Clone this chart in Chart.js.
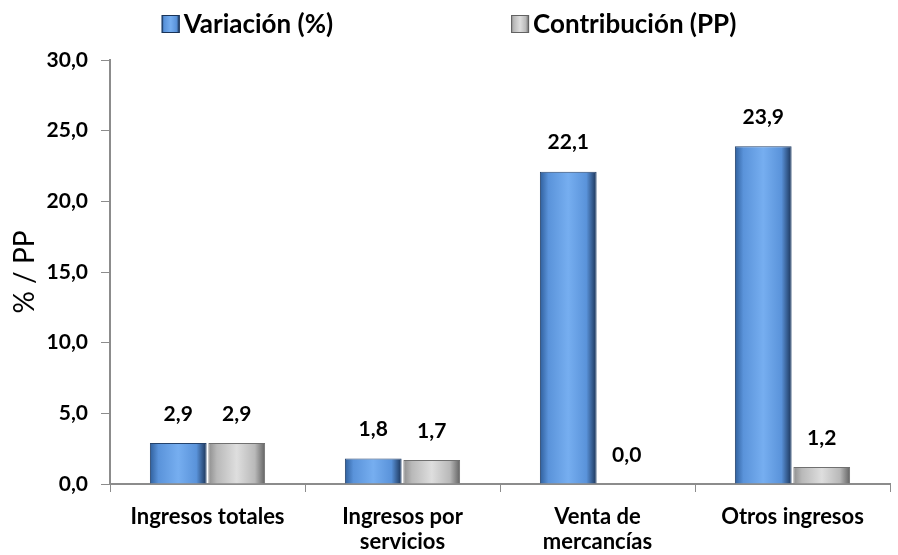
<!DOCTYPE html>
<html>
<head>
<meta charset="utf-8">
<script src="https://cdn.jsdelivr.net/npm/chart.js@4.4.1/dist/chart.umd.min.js"></script>
<style>
  html, body { margin: 0; padding: 0; background: #fff; }
  #wrap { width: 898px; height: 555px; }
</style>
</head>
<body>
<div id="wrap"><canvas id="myChart" width="898" height="555"></canvas></div>
<script>
const categories = ['Ingresos totales', ['Ingresos por', 'servicios'], ['Venta de', 'mercancías'], 'Otros ingresos']
const variacion = [2.9, 1.8, 22.1, 23.9]
const contribucion = [2.9, 1.7, 0.0, 1.2]
const yTicks = [0, 5, 10, 15, 20, 25, 30]
const seriesNames = ['Variación (%)', 'Contribución (PP)']

const catPct = 0.6
const barPct = 0.97
const blueShades = ['#2f5f9c', '#5a93da', '#76aef0', '#1a3357']
const grayShades = ['#8f8f8f', '#b9b9b9', '#dedede', '#626262']

function fmt(v){
    return v.toFixed(1).replace('.', ',')
}

function shade(g, s){
    g.addColorStop(0, s[0])
    g.addColorStop(0.15, s[1])
    g.addColorStop(0.5, s[2])
    g.addColorStop(0.82, s[1])
    g.addColorStop(1, s[3])
    return g
}

// horizontal shading so the bars look a bit like the 3D ones
function barFill(ctx, dsIndex, s){
    const chart = ctx.chart
    const xs = chart.scales.x
    if(!xs || ctx.dataIndex === undefined) return s[1]
    const catW = xs.width / categories.length
    const center = xs.getPixelForValue(ctx.dataIndex)
    if(!isFinite(catW) || !isFinite(center) || catW <= 0) return s[1]
    const half = catW * catPct / 4
    const cx = dsIndex === 0 ? center - half : center + half
    const w = catW * catPct / 2 * barPct
    return shade(chart.ctx.createLinearGradient(cx - w / 2, 0, cx + w / 2, 0), s)
}

const valueLabels = {
    id: 'valueLabels',
    afterDatasetsDraw(chart){
        const ctx = chart.ctx
        ctx.save()
        ctx.font = 'bold 21px Lato'
        ctx.fillStyle = '#000'
        ctx.textAlign = 'center'
        ctx.textBaseline = 'middle'
        chart.data.datasets.forEach(function(ds, i){
            chart.getDatasetMeta(i).data.forEach(function(bar, j){
                ctx.fillText(fmt(ds.data[j]), bar.x, bar.y - 29)
            })
        })
        ctx.restore()
    }
}

// legend drawn by hand, the two entries sit far apart in the original
const topLegend = {
    id: 'topLegend',
    afterDraw(chart){
        const ctx = chart.ctx
        ctx.save()
        ctx.font = 'bold 26px Lato'
        ctx.textBaseline = 'middle'
        ctx.fillStyle = '#000'
        const box = 18, gapBox = 4, gapItems = 178, y = 24
        const w = seriesNames.map(function(t){ return box + gapBox + ctx.measureText(t).width })
        let x = (chart.width - (w[0] + w[1] + gapItems)) / 2
        const shades = [blueShades, grayShades]
        seriesNames.forEach(function(t, i){
            const g = ctx.createLinearGradient(x, 0, x + box, 0)
            ctx.fillStyle = shade(g, shades[i])
            ctx.fillRect(x, y - box / 2, box, box)
            ctx.strokeStyle = shades[i][3]
            ctx.lineWidth = 1
            ctx.strokeRect(x + 0.5, y - box / 2 + 0.5, box - 1, box - 1)
            ctx.fillStyle = '#000'
            ctx.fillText(t, x + box + gapBox, y + 1)
            x += w[i] + gapItems
        })
        ctx.restore()
    }
}

const data = {
    labels: categories,
    datasets: [{
        label: seriesNames[0],
        data: variacion,
        backgroundColor: function(c){ return barFill(c, 0, blueShades) },
        borderColor: '#24426b',
        borderWidth: 1,
        categoryPercentage: catPct,
        barPercentage: barPct
    }, {
        label: seriesNames[1],
        data: contribucion,
        backgroundColor: function(c){ return barFill(c, 1, grayShades) },
        borderColor: '#707070',
        borderWidth: 1,
        categoryPercentage: catPct,
        barPercentage: barPct
    }]
}

const config = {
    type: 'bar',
    data: data,
    plugins: [valueLabels, topLegend],
    options: {
        responsive: false,
        animation: false,
        layout: { padding: { left: 0, right: 8, top: 60, bottom: 0 } },
        plugins: {
            legend: { display: false },
            tooltip: { enabled: false }
        },
        scales: {
            x: {
                afterFit: function(scale){
                    scale.height = 71
                },
                grid: { display: true, drawOnChartArea: false, drawTicks: true, tickLength: 8, color: '#8c8c8c', offset: true },
                border: { color: '#8c8c8c', width: 2 },
                ticks: {
                    font: { family: 'Lato', size: 22, weight: 'bold', lineHeight: 1.15 },
                    color: '#000',
                    maxRotation: 0,
                    padding: 12
                }
            },
            y: {
                min: 0,
                max: 30,
                afterBuildTicks: function(scale){
                    scale.ticks = yTicks.map(function(v){ return { value: v } })
                },
                afterFit: function(scale){
                    scale.width = 110
                },
                grid: { display: true, drawOnChartArea: false, drawTicks: true, tickLength: 9, color: '#8c8c8c' },
                border: { color: '#8c8c8c', width: 2 },
                ticks: {
                    font: { family: 'Lato', size: 21, weight: 'bold' },
                    color: '#000',
                    padding: 13,
                    callback: function(v){ return fmt(v) }
                },
                title: {
                    display: true,
                    text: '% / PP',
                    font: { family: 'Lato', size: 28 },
                    color: '#000',
                    padding: { top: 8, bottom: 0 }
                }
            }
        }
    }
}

const myChart = new Chart(document.getElementById('myChart'), config)
</script>
</body>
</html>
